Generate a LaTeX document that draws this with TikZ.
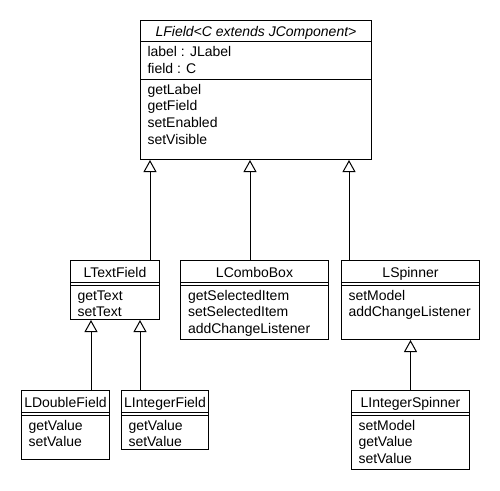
\documentclass[tikz,border=0pt]{standalone}
\usepackage{fontspec}
\setmainfont{Liberation Sans}
\usetikzlibrary{arrows.meta}
\newcommand\umlfont{\fontsize{14}{17}\selectfont}
\begin{document}
\begin{tikzpicture}[x=1pt,y=-1pt,line width=1pt,font=\umlfont,
			cls/.style={draw,anchor=north west,inner sep=0pt},
			ttl/.style={anchor=base,inner sep=0pt},
			mth/.style={anchor=base west,inner sep=0pt},
			inh/.style={-{Triangle[open,width=13pt,length=12pt]}}]
			\useasboundingbox(0,0)rectangle(500,490);
			% LField
			\node[cls,minimum width=231pt,minimum height=139pt](lfield)at(140,20){};
			\node[ttl,font=\umlfont\itshape](lfield t)at(lfield.north|-0,36.7){LField<C extends JComponent>};
			\draw(lfield.west|-0,41)--(lfield.east|-0,41)
				(lfield.west|-0,79)--(lfield.east|-0,79);
			\foreach \a[count=\i] in {label : JLabel,field : C}
				\node[mth](lfield a\i)at(147,{39.8+16.7*\i}){\a};
			\foreach \m[count=\i] in {getLabel,getField,setEnabled,setVisible}
				\node[mth](lfield m\i)at(147,{77.3+16.7*\i}){\m};
			% LTextField
			\node[cls,minimum width=89pt,minimum height=59pt](ltextfield)at(70,260){};
			\node[ttl](ltextfield t)at(ltextfield.north|-0,277){LTextField};
			\draw(ltextfield.west|-0,282.5)--(ltextfield.east|-0,282.5)
				(ltextfield.west|-0,285.5)--(ltextfield.east|-0,285.5);
			\foreach \m[count=\i] in {getText,setText}
				\node[mth](ltextfield m\i)at(77,{283.5+16.7*\i}){\m};
			% LComboBox
			\node[cls,minimum width=148pt,minimum height=79pt](lcombobox)at(180,260){};
			\node[ttl](lcombobox t)at(lcombobox.north|-0,277){LComboBox};
			\draw(lcombobox.west|-0,282.5)--(lcombobox.east|-0,282.5)
				(lcombobox.west|-0,285.5)--(lcombobox.east|-0,285.5);
			\foreach \m[count=\i] in {getSelectedItem,setSelectedItem,addChangeListener}
				\node[mth](lcombobox m\i)at(187.5,{283.5+16.7*\i}){\m};
			% LSpinner
			\node[cls,minimum width=138pt,minimum height=79pt](lspinner)at(341,260){};
			\node[ttl](lspinner t)at(lspinner.north|-0,277){LSpinner};
			\draw(lspinner.west|-0,282.5)--(lspinner.east|-0,282.5)
				(lspinner.west|-0,285.5)--(lspinner.east|-0,285.5);
			\foreach \m[count=\i] in {setModel,addChangeListener}
				\node[mth](lspinner m\i)at(348,{283.5+16.7*\i}){\m};
			% LDoubleField
			\node[cls,minimum width=88pt,minimum height=69pt](ldoublefield)at(21,390){};
			\node[ttl](ldoublefield t)at(ldoublefield.north|-0,407){LDoubleField};
			\draw(ldoublefield.west|-0,412.5)--(ldoublefield.east|-0,412.5)
				(ldoublefield.west|-0,415.5)--(ldoublefield.east|-0,415.5);
			\foreach \m[count=\i] in {getValue,setValue}
				\node[mth](ldoublefield m\i)at(28,{413.5+16.7*\i}){\m};
			% LIntegerField
			\node[cls,minimum width=87pt,minimum height=59pt](lintegerfield)at(121,390){};
			\node[ttl](lintegerfield t)at(lintegerfield.north|-0,407){LIntegerField};
			\draw(lintegerfield.west|-0,412.5)--(lintegerfield.east|-0,412.5)
				(lintegerfield.west|-0,415.5)--(lintegerfield.east|-0,415.5);
			\foreach \m[count=\i] in {getValue,setValue}
				\node[mth](lintegerfield m\i)at(128,{413.5+16.7*\i}){\m};
			% LIntegerSpinner
			\node[cls,minimum width=118pt,minimum height=79pt](lintegerspinner)at(351,390){};
			\node[ttl](lintegerspinner t)at(lintegerspinner.north|-0,407){LIntegerSpinner};
			\draw(lintegerspinner.west|-0,412.5)--(lintegerspinner.east|-0,412.5)
				(lintegerspinner.west|-0,415.5)--(lintegerspinner.east|-0,415.5);
			\foreach \m[count=\i] in {setModel,getValue,setValue}
				\node[mth](lintegerspinner m\i)at(358,{413.5+16.7*\i}){\m};
			% generalisations
			\draw[inh](ltextfield.north-|150,0)--(lfield.south-|150,0);
			\draw[inh](lcombobox.north-|250,0)--(lfield.south-|250,0);
			\draw[inh](lspinner.north-|349,0)--(lfield.south-|349,0);
			\draw[inh](ldoublefield.north-|91,0)--(ltextfield.south-|91,0);
			\draw[inh](lintegerfield.north-|140,0)--(ltextfield.south-|140,0);
			\draw[inh](lintegerspinner.north)--(lspinner.south);
		\end{tikzpicture}
\end{document}
